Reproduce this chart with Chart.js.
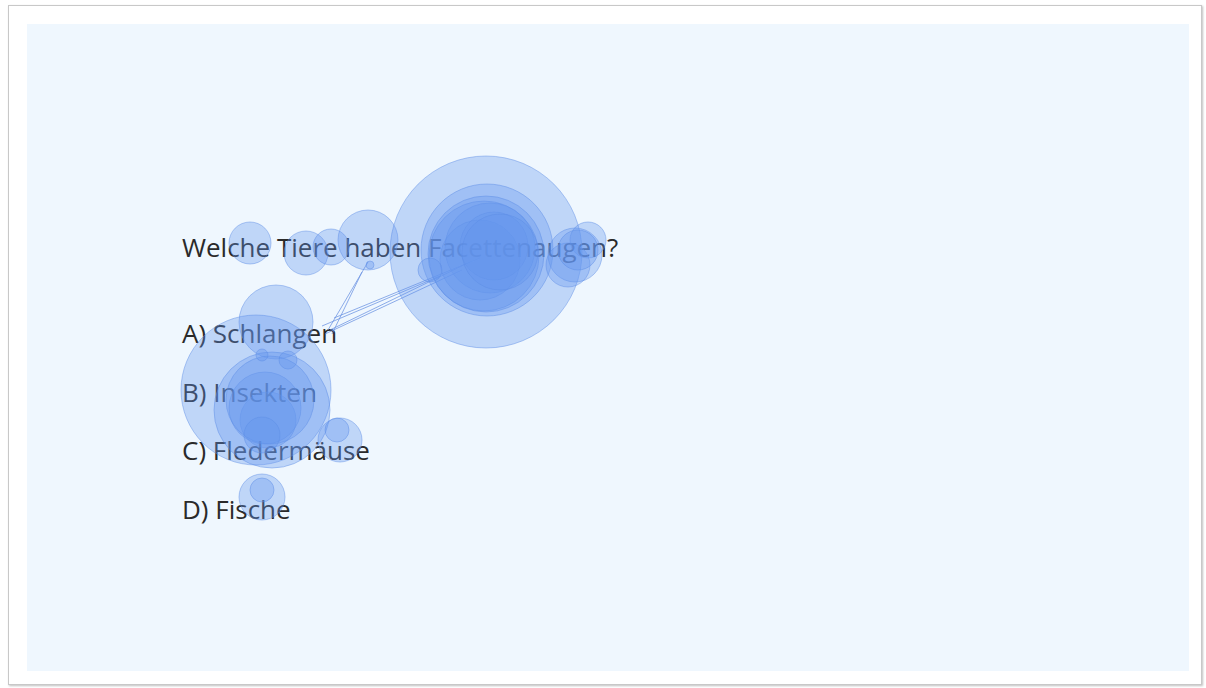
<!DOCTYPE html>
<html>
<head>
<meta charset="utf-8">
<script src="https://cdn.jsdelivr.net/npm/chart.js@4"></script>
<style>
  html, body { margin: 0; padding: 0; background: #ffffff; width: 1206px; height: 688px; overflow: hidden; }
  #frame { position: absolute; left: 8px; top: 5px; width: 1194px; height: 680px; background: #ffffff;
           border: 1px solid #c8c8c8; box-shadow: 1px 1px 2px rgba(0,0,0,0.25); box-sizing: border-box; }
  #slide { position: absolute; left: 27px; top: 24px; width: 1162px; height: 647px; background: #eff7fe; }
  #txt { position: absolute; left: 0; top: 0; }
  #wrap { position: absolute; left: 0; top: 0; width: 1206px; height: 688px; }
  text { font-family: "Open Sans", sans-serif; font-size: 26px; fill: #2a2a2a; }
</style>
</head>
<body>
<div id="frame"></div>
<div id="slide"></div>
<svg id="txt" width="1206" height="688"></svg>
<div id="wrap"><canvas id="c" width="1206" height="688"></canvas></div>
<script>
// Slide text
const question = "Welche Tiere haben Facettenaugen?";
const answers = ["A) Schlangen", "B) Insekten", "C) Fledermäuse", "D) Fische"];

// Fixations (screen position and duration-based radius)
const fixX = [250, 306, 331, 368, 370, 486, 487, 484, 490, 480, 494, 486, 500, 575, 588, 568, 578, 430,
              276, 256, 272, 268, 265, 270, 262, 288, 340, 337, 262, 262, 262];
const fixY = [243, 253, 247, 240, 265, 252, 250, 256, 248, 260, 246, 254, 252, 255, 240, 265, 250, 270,
              322, 390, 410, 420, 408, 400, 355, 360, 440, 430, 497, 490, 435];
const fixR = [21, 22, 18, 30, 4, 96, 66, 55, 45, 40, 34, 58, 38, 27, 18, 22, 20, 12,
              37, 75, 58, 28, 36, 44, 6, 9, 22, 12, 23, 12, 18];

// Saccade paths (null breaks a path)
const pathX = [330, 470, null, 325, 462, null, 334, 480, null, 328, 368, null, 322, 440, null, 332, 362];
const pathY = [330, 262, null, 334, 270, null, 318, 258, null, 330, 262, null, 326, 276, null, 334, 272];

// SVG text
const svgNS = "http://www.w3.org/2000/svg";
const svg = document.getElementById("txt");
function addText(str, x, y) {
  const t = document.createElementNS(svgNS, "text");
  t.setAttribute("x", x); t.setAttribute("y", y);
  t.textContent = str;
  svg.appendChild(t);
}
addText(question, 182, 257);
const baselines = [343, 402, 460, 519];
answers.forEach((a, i) => addText(a, 182, baselines[i]));

const fixData = fixX.map((x, i) => ({ x: x, y: fixY[i], r: fixR[i] }));
const pathData = pathX.map((x, i) => ({ x: x, y: pathY[i] }));

new Chart(document.getElementById("c"), {
  type: "bubble",
  data: {
    datasets: [
      {
        type: "bubble",
        data: fixData,
        backgroundColor: "rgba(100,150,236,0.34)",
        borderColor: "rgba(90,140,228,0.45)",
        borderWidth: 1,
        clip: false
      },
      {
        type: "line",
        data: pathData,
        borderColor: "rgba(105,145,225,0.75)",
        borderWidth: 1,
        pointRadius: 0,
        fill: false,
        spanGaps: false,
        tension: 0,
        clip: false
      }
    ]
  },
  options: {
    responsive: false,
    animation: false,
    events: [],
    layout: { padding: 0, autoPadding: false },
    plugins: { legend: { display: false }, tooltip: { enabled: false } },
    scales: {
      x: { type: "linear", min: 0, max: 1206, display: false },
      y: { type: "linear", min: 0, max: 688, reverse: true, display: false }
    }
  }
});
</script>
</body>
</html>
